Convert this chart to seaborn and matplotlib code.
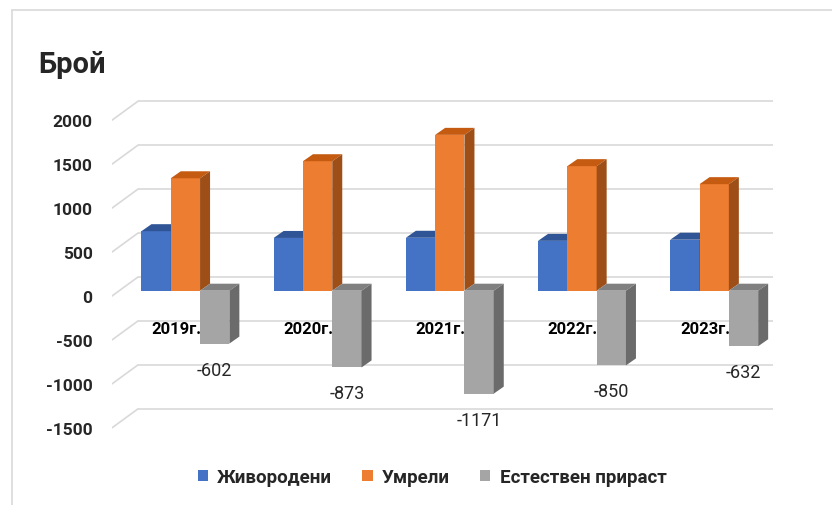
import matplotlib
matplotlib.use('Agg')

import numpy as np
import pandas as pd
import seaborn as sns
import matplotlib.pyplot as plt
from matplotlib.patches import Polygon, Patch
from matplotlib.lines import Line2D
from matplotlib.transforms import offset_copy

# data
years = ['2019г.', '2020г.', '2021г.', '2022г.', '2023г.']
births = [677, 600, 602, 567, 580]
deaths = [1279, 1473, 1773, 1417, 1212]
natural_growth = [-602, -873, -1171, -850, -632]
series_names = ['Живородени', 'Умрели', 'Естествен прираст']
y_ticks = [-1500, -1000, -500, 0, 500, 1000, 1500, 2000]

front_colors = ['#4472C4', '#ED7D31', '#A5A5A5']
top_colors = ['#2F5597', '#C55A11', '#808080']
side_colors = ['#2F5597', '#9E4E17', '#6B6B6B']

df = pd.DataFrame({
    'year': years * 3,
    'value': births + deaths + natural_growth,
    'series': np.repeat(series_names, len(years)),
})

sns.set_style('white')
plt.rcParams['font.family'] = ['Roboto', 'DejaVu Sans']

W, H = 832, 506
fig = plt.figure(figsize=(W / 100, H / 100), dpi=100)
# front plane of the pseudo 3D box, in pixels
ax = fig.add_axes([112 / W, (H - 440) / H, (773 - 112) / W, 350 / H])

sns.barplot(data=df, x='year', y='value', hue='series', palette=front_colors,
            saturation=1, width=0.665, gap=0, errorbar=None, legend=False, ax=ax)
ax.set_xlim(-0.5, 4.5)
ax.set_ylim(-1627, 2355)

# pixel -> data scales
px_x = (773 - 112) / 5.0
px_y = 350 / (2355 + 1627)

# bars sit a bit behind the front plane
bar_tr = offset_copy(ax.transData, fig=fig, x=7.3, y=5.3, units='dots')
back_dx, back_dy = 26 / px_x, 19 / px_y
depth_dx, depth_dy = 10 / px_x, 7 / px_y

# gridlines: back wall + slanted left wall
for v in y_ticks:
    ax.plot([-0.5 + back_dx, 4.5 + back_dx], [v + back_dy, v + back_dy],
            color='#D9D9D9', lw=1.2, zorder=1, solid_capstyle='butt')
    ax.plot([-0.5, -0.5 + back_dx], [v, v + back_dy], color='#D9D9D9', lw=1.2, zorder=1)

bars = sorted(ax.patches, key=lambda p: p.get_x())
for k, p in enumerate(bars):
    x, w, h = p.get_x(), p.get_width(), p.get_height()
    si = front_colors.index(matplotlib.colors.to_hex(p.get_facecolor()).upper())
    z = 3 + k * 0.01
    p.set_transform(bar_tr)
    p.set_zorder(z)
    p.set_edgecolor('none')
    top_y = max(h, 0)
    low_y = min(h, 0)
    top = Polygon([(x, top_y), (x + w, top_y), (x + w + depth_dx, top_y + depth_dy),
                   (x + depth_dx, top_y + depth_dy)], closed=True,
                  facecolor=top_colors[si], edgecolor='none', transform=bar_tr, zorder=z)
    side = Polygon([(x + w, low_y), (x + w + depth_dx, low_y + depth_dy),
                    (x + w + depth_dx, top_y + depth_dy), (x + w, top_y)], closed=True,
                   facecolor=side_colors[si], edgecolor='none', transform=bar_tr, zorder=z)
    ax.add_patch(top)
    ax.add_patch(side)
    if si == 2:
        ax.annotate(f'{int(h)}', xy=(x + w / 2, h), xycoords=bar_tr,
                    xytext=(0, -26), textcoords='offset pixels',
                    ha='center', va='center', fontsize=13, color='#262626', zorder=10)

# category labels on the floor
for i, lab in enumerate(years):
    ax.annotate(lab, xy=(i, 0), xytext=(-2, -33), textcoords='offset pixels',
                ha='center', va='center', fontsize=12, fontweight='bold',
                color='black', zorder=10)

ax.set_xticks([])
ax.set_yticks(y_ticks)
ax.set_yticklabels([str(t) for t in y_ticks], fontsize=12.5, fontweight='bold')
ax.tick_params(axis='y', length=0, pad=14)
ax.set_xlabel('')
ax.set_ylabel('')
for s in ax.spines.values():
    s.set_visible(False)
ax.patch.set_visible(False)

fig.text(38 / W, 1 - 65 / H, 'Брой', fontsize=21, fontweight='bold', ha='left', va='center')

handles = [Patch(facecolor=c, edgecolor='none', label=n) for c, n in zip(front_colors, series_names)]
fig.legend(handles=handles, loc='center', bbox_to_anchor=(432 / W, 1 - 478 / H), ncol=3,
           frameon=False, prop={'size': 13.5, 'weight': 'bold'},
           handlelength=0.55, handleheight=0.55, handletextpad=0.5, columnspacing=1.6)

# chart border (left and top)
fig.add_artist(Line2D([12 / W, 12 / W], [0, 1 - 11 / H], color='#D9D9D9', lw=1.2))
fig.add_artist(Line2D([12 / W, 1], [1 - 11 / H, 1 - 11 / H], color='#D9D9D9', lw=1.2))

fig.savefig('out.png', dpi=100)
plt.close(fig)
